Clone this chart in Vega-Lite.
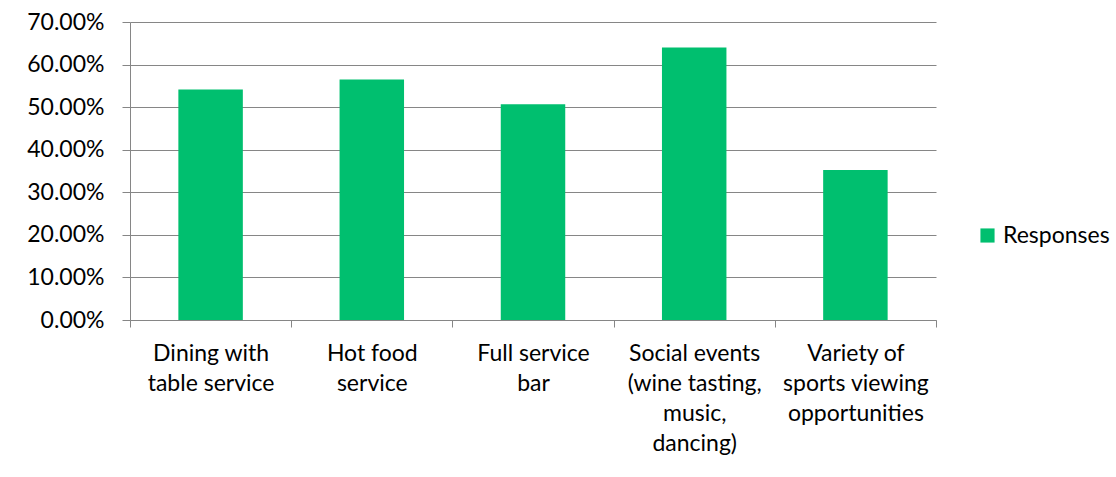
{
  "$schema": "https://vega.github.io/schema/vega-lite/v6.json",
  "autosize": "none",
  "width": 806,
  "height": 298,
  "padding": {"left": 130, "top": 22, "right": 180, "bottom": 157},
  "background": "white",
  "config": {
    "view": {"stroke": null},
    "font": "Lato",
    "axis": {"labelFont": "Lato", "labelFontSize": 23, "labelColor": "#000000", "domainColor": "#868686", "tickColor": "#868686", "gridColor": "#868686", "titleFont": "Lato"}
  },
  "data": {
    "values": [
      {"category": "Dining with table service", "series": "Responses", "value": 0.5416},
      {"category": "Hot food service", "series": "Responses", "value": 0.5650},
      {"category": "Full service bar", "series": "Responses", "value": 0.5070},
      {"category": "Social events (wine tasting, music, dancing)", "series": "Responses", "value": 0.6400},
      {"category": "Variety of sports viewing opportunities", "series": "Responses", "value": 0.3525}
    ]
  },
  "mark": {"type": "bar", "color": "#00BF6F", "width": {"band": 0.4}},
  "encoding": {
    "x": {
      "field": "category",
      "type": "nominal",
      "sort": null,
      "scale": {"paddingInner": 0, "paddingOuter": 0},
      "axis": {
        "title": null,
        "labelAngle": 0,
        "tickBand": "extent",
        "tickSize": 7,
        "labelPadding": 15,
        "labelLineHeight": 30,
        "labelBaseline": "top",
        "labelExpr": "datum.value == 'Dining with table service' ? ['Dining with', 'table service'] : datum.value == 'Hot food service' ? ['Hot food', 'service'] : datum.value == 'Full service bar' ? ['Full service', 'bar'] : datum.value == 'Social events (wine tasting, music, dancing)' ? ['Social events', '(wine tasting,', 'music,', 'dancing)'] : datum.value == 'Variety of sports viewing opportunities' ? ['Variety of', 'sports viewing', 'opportunities'] : ''"
      }
    },
    "y": {
      "field": "value",
      "type": "quantitative",
      "scale": {"domain": [0, 0.7], "nice": false},
      "axis": {
        "title": null,
        "format": ".2%",
        "values": [0, 0.1, 0.2, 0.3, 0.4, 0.5, 0.6, 0.7],
        "tickSize": 8,
        "labelPadding": 18,
        "gridColor": "#868686"
      }
    },
    "fill": {
      "field": "series",
      "type": "nominal",
      "scale": {"range": ["#00BF6F"]},
      "legend": {
        "title": null,
        "orient": "none",
        "legendX": 846,
        "legendY": 202,
        "symbolType": "square",
        "symbolSize": 200,
        "symbolStrokeWidth": 0,
        "labelFont": "Lato",
        "labelFontSize": 23,
        "labelColor": "#000000"
      }
    }
  }
}
